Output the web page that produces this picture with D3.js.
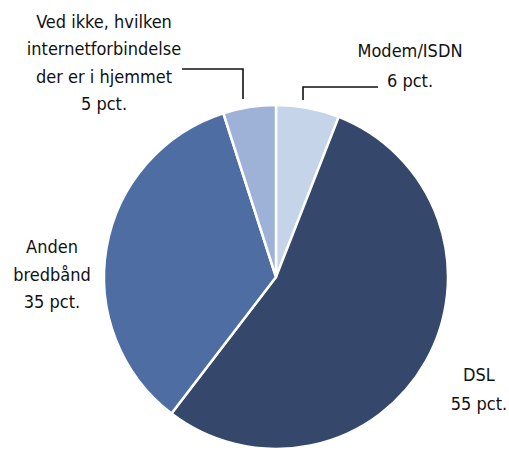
<!DOCTYPE html>
<html><head><meta charset="utf-8">
<script src="https://cdn.jsdelivr.net/npm/d3@7"></script>
<style>
body{margin:0;background:#fff;}
text{font-family:"DejaVu Sans Condensed","Liberation Sans Narrow",sans-serif;font-size:18px;fill:#111;}
</style></head><body>
<svg id="c" width="509" height="451"></svg>
<script>
const categories = ["Modem/ISDN", "DSL", "Anden bredbånd", "Ved ikke, hvilken internetforbindelse der er i hjemmet"];
const values = [6, 55, 35, 5];
const colors = ["#c6d4e9", "#35476a", "#4e6da3", "#9eb2d7"];
const labelLines = [
  ["Modem/ISDN", "6 pct."],
  ["DSL", "55 pct."],
  ["Anden", "bredbånd", "35 pct."],
  ["Ved ikke, hvilken", "internetforbindelse", "der er i hjemmet", "5 pct."]
];

const svg = d3.select("#c");
const cx = 276, cy = 277, r = 172;
const g = svg.append("g").attr("transform", `translate(${cx},${cy})`);
const pie = d3.pie().sort(null).value(d => d);
const arcs = pie(values);
const arc = d3.arc().innerRadius(0).outerRadius(r);
g.selectAll("path").data(arcs).join("path")
  .attr("d", arc).attr("fill", (d,i) => colors[i])
  .attr("stroke", "#fff").attr("stroke-width", 2.5).attr("stroke-linejoin","round");

// label anchors: [centerX, firstBaseline, lineHeight]
const labelPos = [[410, 57, 30], [479, 381, 29], [52, 253, 27.5], [104, 28, 27.3]];
labelLines.forEach((lines, i) => {
  const t = svg.append("text").attr("text-anchor", "middle");
  lines.forEach((l, j) => {
    t.append("tspan").attr("x", labelPos[i][0]).attr("y", labelPos[i][1] + j * labelPos[i][2]).text(l);
  });
});

// leader lines
const lc = svg.append("g").attr("fill","none").attr("stroke","#111").attr("stroke-width",1.6);
lc.append("path").attr("d", "M303,100V87H378");
lc.append("path").attr("d", "M182,69H243V99");
</script>
</body></html>
